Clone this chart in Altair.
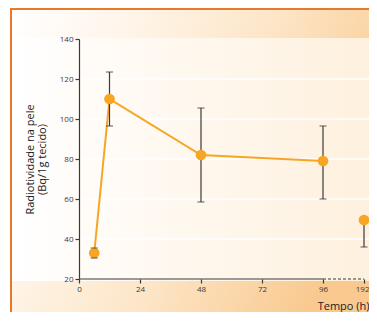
import altair as alt
import pandas as pd

# ---- data ----
hours = [6, 12, 48, 96, 192]
mean = [33, 110, 82, 79, 49.5]
low = [30.5, 96.5, 58.5, 60, 36]
high = [35.5, 123.5, 105.5, 96.5, None]
joined = [True, True, True, True, False]

x_ticks = [0, 24, 48, 72, 96, 192]
y_ticks = [20, 40, 60, 80, 100, 120, 140]
grid_vals = [40, 60, 80, 100, 120]
axis_solid = [0, 96]
axis_dashed = [96, 192]

y_title = ["Radiotividade na pele", "(Bq/1g tecido)"]
x_title = "Tempo (h)"

ORANGE = "#F6A623"
DARK = "#3a3a3a"
FONT = "Open Sans"

df = pd.DataFrame({"h": hours, "m": mean, "lo": low, "hi": high, "j": joined})
df["top"] = [hi if hi is not None and hi == hi else m for hi, m in zip(df["hi"], df["m"])]
caps = pd.DataFrame(
    {"h": hours + [h for h, v in zip(hours, high) if v is not None],
     "v": low + [v for v in high if v is not None]}
)
grid_df = pd.DataFrame({"v": grid_vals})
seg_df = pd.DataFrame({"a": [axis_solid[0], axis_dashed[0]], "b": [axis_solid[1], axis_dashed[1]],
                       "y": [20, 20], "kind": ["solid", "dashed"]})
one = pd.DataFrame({"a": [0]})

W, H = 285, 240
xs = alt.Scale(domain=[0, 96, 192], range=[0, 244, W], nice=False, zero=False)
ys = alt.Scale(domain=[20, 140], nice=False, zero=False)

last_tick = x_ticks[-1]
xaxis = alt.Axis(
    values=x_ticks, domain=False, ticks=True, tickSize=4, tickColor=DARK, tickWidth=1.2,
    labelFontSize=8, labelColor=DARK, labelFont=FONT, labelPadding=2, labelFlush=False,
    labelAlign={"condition": {"test": f"datum.value === {last_tick}", "value": "right"}, "value": "center"},
    labelOffset={"condition": {"test": f"datum.value === {last_tick}", "value": 5}, "value": 0},
    grid=False, title=x_title, titleFont=FONT, titleFontSize=11, titleFontWeight="normal",
    titleColor="#222", titleAlign="right", titleX=290, titleY=27, titleBaseline="middle",
    zindex=1)
yaxis = alt.Axis(
    values=y_ticks, domain=True, domainColor=DARK, domainWidth=1.2, ticks=True, tickSize=4,
    tickColor=DARK, tickWidth=1.2, labelFontSize=8, labelColor=DARK, labelFont=FONT,
    labelPadding=2, grid=False, title=y_title, titleFont=FONT, titleFontSize=11,
    titleFontWeight="normal", titleColor="#222", titleX=-48.5, titleY=120, titleAlign="center",
    titleBaseline="middle", titleAngle=270, titleLineHeight=12, zindex=1)


def X(f):
    return alt.X(f, scale=xs, axis=xaxis)


def Y(f):
    return alt.Y(f, scale=ys, axis=yaxis)


outer_grad = {"gradient": "linear", "x1": 0, "y1": 0, "x2": 1, "y2": 0.45,
              "stops": [{"offset": 0, "color": "#ffffff"},
                        {"offset": 0.25, "color": "#FFF6EC"},
                        {"offset": 0.6, "color": "#FDE6C8"},
                        {"offset": 1, "color": "#F9C98F"}]}
panel_grad = {"gradient": "linear", "x1": 0, "y1": 0, "x2": 1, "y2": 0,
              "stops": [{"offset": 0, "color": "#ffffff"},
                        {"offset": 0.4, "color": "#FFF9F1"},
                        {"offset": 1, "color": "#FEF0DD"}]}

outer = alt.Chart(one).mark_rect(fill=outer_grad, stroke="#E8782A", strokeWidth=2).encode(
    x=alt.value(-68), x2=alt.value(300), y=alt.value(-30), y2=alt.value(320))
panel = alt.Chart(one).mark_rect(fill=panel_grad).encode(
    x=alt.value(-67), x2=alt.value(300), y=alt.value(-1), y2=alt.value(242))

grid = alt.Chart(grid_df).mark_rule(color="white", strokeWidth=1.5).encode(
    y=Y("v:Q"), x=alt.value(0), x2=alt.value(300))

solid_axis = alt.Chart(seg_df[seg_df.kind == "solid"]).mark_rule(color=DARK, strokeWidth=1.2).encode(
    x=X("a:Q"), x2="b:Q", y=Y("y:Q"))
dashed_axis = alt.Chart(seg_df[seg_df.kind == "dashed"]).mark_rule(
    color=DARK, strokeWidth=1.2, strokeDash=[3, 2]).encode(
    x=X("a:Q"), x2="b:Q", y=Y("y:Q"))

line = alt.Chart(df[df.j]).mark_line(color=ORANGE, strokeWidth=2).encode(
    x=X("h:Q"), y=Y("m:Q"))

bars = alt.Chart(df).mark_rule(color=DARK, strokeWidth=1.2).encode(
    x=X("h:Q"), y=Y("lo:Q"), y2="top:Q")

points = alt.Chart(df).mark_circle(color=ORANGE, opacity=1, size=115).encode(
    x=X("h:Q"), y=Y("m:Q"))

cap_marks = alt.Chart(caps).mark_tick(color=DARK, orient="horizontal", size=7, thickness=1.2).encode(
    x=X("h:Q"), y=Y("v:Q"))

chart = alt.layer(outer, panel, grid, solid_axis, dashed_axis, line, bars, points, cap_marks).properties(
    width=W, height=H,
    padding={"left": 71, "top": 31, "right": 5, "bottom": 33},
    autosize=alt.AutoSizeParams(type="none"),
).configure_view(stroke=None)

chart.save("out.html", embed_options={"renderer": "svg", "actions": False})
